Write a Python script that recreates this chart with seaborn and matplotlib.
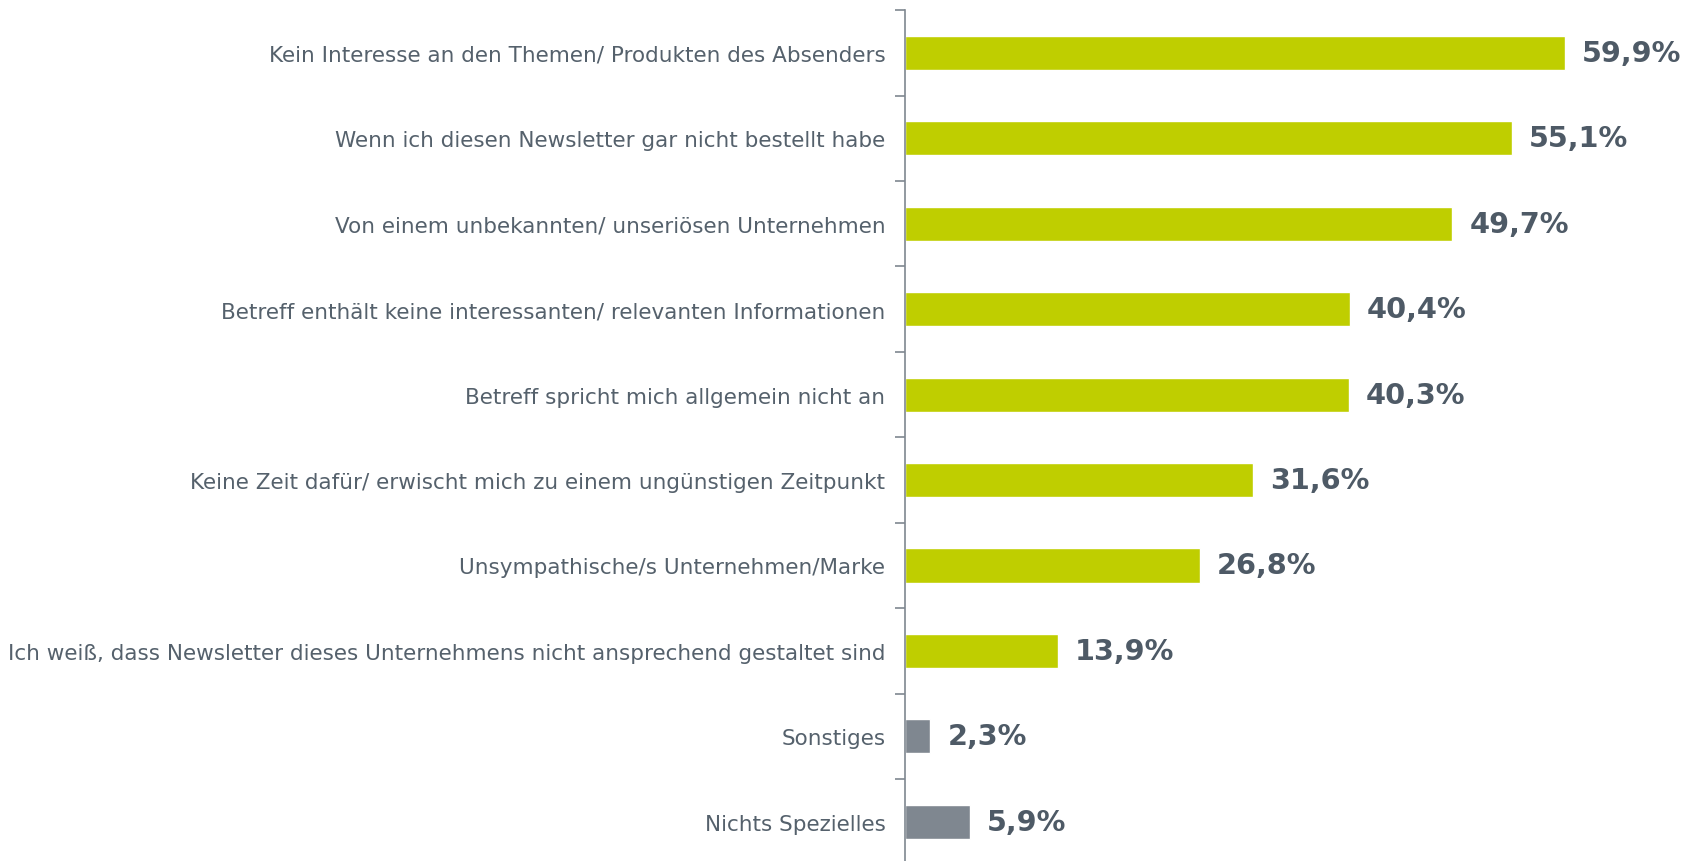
import seaborn as sns
import matplotlib.pyplot as plt
import pandas as pd

reasons = [
    "Kein Interesse an den Themen/ Produkten des Absenders",
    "Wenn ich diesen Newsletter gar nicht bestellt habe",
    "Von einem unbekannten/ unseriösen Unternehmen",
    "Betreff enthält keine interessanten/ relevanten Informationen",
    "Betreff spricht mich allgemein nicht an",
    "Keine Zeit dafür/ erwischt mich zu einem ungünstigen Zeitpunkt",
    "Unsympathische/s Unternehmen/Marke",
    "Ich weiß, dass Newsletter dieses Unternehmens nicht ansprechend gestaltet sind",
    "Sonstiges",
    "Nichts Spezielles",
]
shares = [59.9, 55.1, 49.7, 40.4, 40.3, 31.6, 26.8, 13.9, 2.3, 5.9]
groups = ["main"] * 8 + ["other"] * 2

green = "#BFCE00"
grey = "#7F8790"
text_col = "#4E5A66"

df = pd.DataFrame({"reason": reasons, "share": shares, "group": groups})

sns.set_style("white")
plt.rcParams["font.family"] = ["DejaVu Sans"]

fig = plt.figure(figsize=(16.85, 8.62), dpi=100)
ax = fig.add_axes([0.537, -0.004, 0.463, 0.991])

sns.barplot(data=df, x="share", y="reason", hue="group",
            palette={"main": green, "other": grey},
            orient="h", width=0.4, dodge=False, legend=False, ax=ax,
            saturation=1)

# value labels at bar ends
for i, v in enumerate(shares):
    ax.text(v + 1.55, i, f"{v:.1f}%".replace(".", ","), va="center", ha="left",
            fontsize=20.7, fontweight="bold", color=text_col)

ax.set_xlim(0, 70.8)
ax.set_ylim(len(reasons) - 0.5, -0.5)
ax.set_xlabel("")
ax.set_ylabel("")
ax.set_xticks([])

for s in ["top", "right", "bottom"]:
    ax.spines[s].set_visible(False)
ax.spines["left"].set_color(grey)
ax.spines["left"].set_linewidth(1.2)

# ticks between categories, labels centred
ax.set_yticks([i - 0.5 for i in range(len(reasons) + 1)], minor=True)
ax.tick_params(axis="y", which="minor", length=7, width=1.2, color=grey, left=True)
ax.tick_params(axis="y", which="major", length=0, pad=14, labelsize=15.5, labelcolor="#55616C")

plt.savefig("out.png", dpi=100)
